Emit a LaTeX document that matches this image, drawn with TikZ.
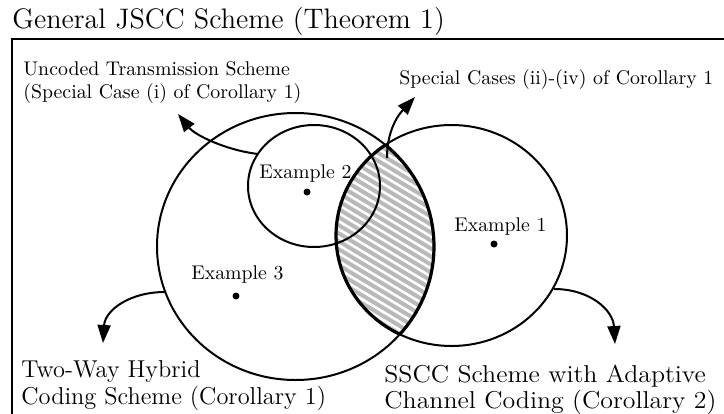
\documentclass[tikz,border=0pt]{standalone}
\usepackage{graphicx}
\usetikzlibrary{arrows.meta}
\begin{document}
\begin{tikzpicture}[x=0.5pt,y=-0.5pt,
  ring/.style={line width=1pt},
  lensline/.style={line width=1.6pt},
  callout/.style={line width=1pt,-{Triangle[length=9pt,width=6.5pt]}},
  smalltxt/.style={font=\fontsize{9.9}{12}\selectfont, inner sep=0pt, anchor=base west},
  bigtxt/.style={font=\fontsize{12.2}{14}\selectfont, inner sep=0pt, anchor=base west},
  titletxt/.style={font=\fontsize{14.1}{16}\selectfont, inner sep=0pt, anchor=base west},
  dot/.style={circle, fill, inner sep=0pt, minimum size=3.5pt}]
\useasboundingbox (0,0) rectangle (724,413);
% frame
\draw[line width=1pt] (12,425) -- (12,39) -- (735,39);
% lens
\begin{scope}
\clip (295.5,246.5) ellipse [x radius=138.5, y radius=133.5];
\clip (451.5,235.5) ellipse [x radius=115.5, y radius=110.5];
\fill[gray!55] (300,100) rectangle (460,400);
\foreach \k in {-25,...,35} \draw[white, line width=1.3pt] (300,150+\k*8) -- (460,246+\k*8);
\end{scope}
% circles
\draw[ring] (295.5,246.5) ellipse [x radius=138.5, y radius=133.5];
\draw[ring] (451.5,235.5) ellipse [x radius=115.5, y radius=110.5];
\draw[ring] (314,186) ellipse [x radius=66, y radius=61];
% lens outline
\begin{scope}
\clip (295.5,246.5) ellipse [x radius=138.5, y radius=133.5];
\draw[lensline] (451.5,235.5) ellipse [x radius=115.5, y radius=110.5];
\end{scope}
\begin{scope}
\clip (451.5,235.5) ellipse [x radius=115.5, y radius=110.5];
\draw[lensline] (295.5,246.5) ellipse [x radius=138.5, y radius=133.5];
\end{scope}
% texts
\node[titletxt] (title) at (12,28) {General JSCC Scheme (Theorem 1)};
\node[smalltxt] (unc1) at (23,75) {Uncoded Transmission Scheme};
\node[smalltxt] (unc2) at (23,98) {(Special Case (i) of Corollary 1)};
\node[smalltxt] (spc) at (399,84) {Special Cases (ii)-(iv) of Corollary 1};
\node[smalltxt] (ex2) at (259,178) {Example 2};
\node[smalltxt] (ex3) at (191,279) {Example 3};
\node[smalltxt] (ex1) at (454,231) {Example 1};
\node[bigtxt] (tw1) at (21,377) {Two-Way Hybrid};
\node[bigtxt] (tw2) at (21,404) {Coding Scheme (Corollary 1)};
\node[bigtxt] (ss1) at (384,382) {\scalebox{1.06}[1]{SSCC Scheme with Adaptive}};
\node[bigtxt] (ss2) at (384,408) {\scalebox{1.06}[1]{Channel Coding (Corollary 2)}};
% dots
\node[dot] (d2) at (307,192) {};
\node[dot] (d3) at (236,296) {};
\node[dot] (d1) at (494,244) {};
% arrows
\coordinate (a1s) at (258,154); \coordinate (a1e) at (178,114);
\coordinate (a2s) at (387,158); \coordinate (a2e) at (415,97);
\coordinate (a3s) at (165,292); \coordinate (a3e) at (103,343);
\coordinate (a4s) at (554,289); \coordinate (a4e) at (615,344);
\draw[callout] (a1s) .. controls (225,150) and (195,135) .. (a1e);
\draw[callout] (a2s) .. controls (387,125) and (403,110) .. (a2e);
\draw[callout] (a3s) .. controls (130,292) and (105,310) .. (a3e);
\draw[callout] (a4s) .. controls (590,289) and (613,310) .. (a4e);
\end{tikzpicture}
\end{document}
